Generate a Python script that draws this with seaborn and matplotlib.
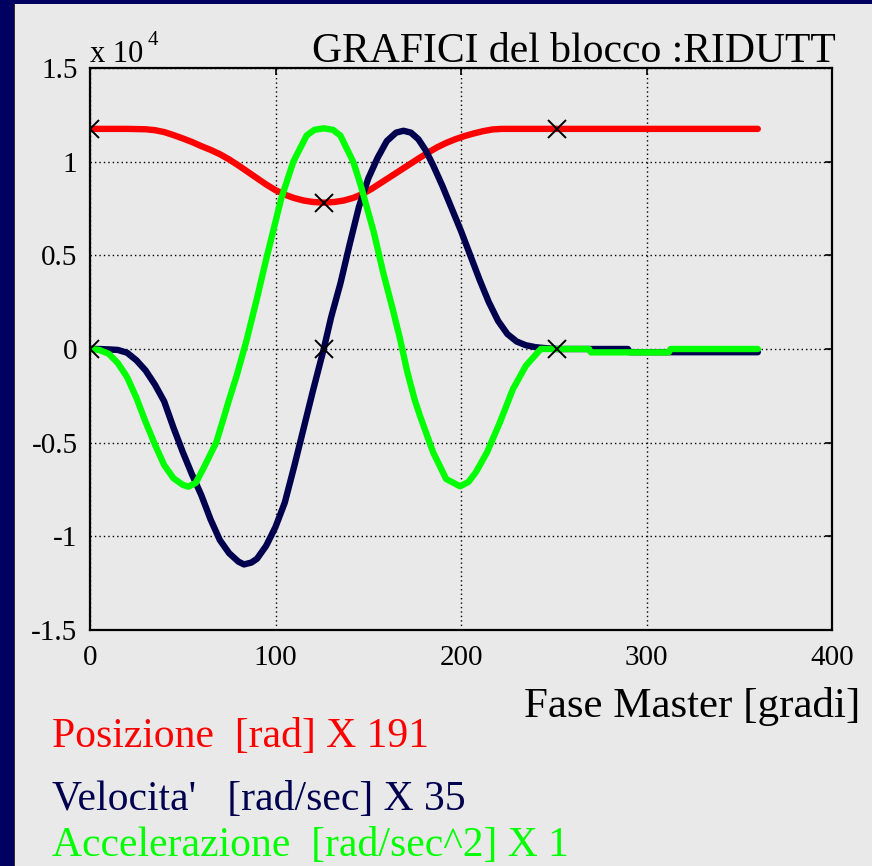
import matplotlib
matplotlib.use("Agg")
import matplotlib.pyplot as plt
import seaborn as sns
from matplotlib.patches import Rectangle

# Cam law of block RIDUTT, values in units of 10^4
pos_deg = [0, 10, 20, 30, 35, 40, 45, 50, 55, 60, 65, 70, 75, 80, 85, 90, 95, 100,
           105, 110, 115, 120, 126, 132, 137, 142, 147, 152, 157, 162, 167, 172, 177,
           182, 187, 192, 197, 202, 207, 212, 217, 222, 252, 300, 360]
pos_val = [1.175, 1.175, 1.175, 1.173, 1.168, 1.158, 1.142, 1.124, 1.105, 1.083, 1.063,
           1.040, 1.012, 0.980, 0.946, 0.912, 0.878, 0.848, 0.824, 0.806, 0.793, 0.785,
           0.781, 0.785, 0.793, 0.807, 0.828, 0.856, 0.888, 0.920, 0.952, 0.984, 1.016,
           1.047, 1.076, 1.100, 1.120, 1.137, 1.151, 1.163, 1.172, 1.175, 1.175, 1.175,
           1.175]

vel_deg = [0, 5, 10, 15, 20, 25, 30, 35, 40, 45, 50, 55, 60, 65, 70, 75, 80, 83, 87,
           90, 95, 100, 105, 110, 115, 120, 126, 130, 135, 140, 145, 150, 155, 160,
           165, 169, 173, 177, 181, 185, 190, 195, 200, 205, 210, 215, 220, 225, 230,
           235, 240, 245, 252, 290, 291, 360]
vel_val = [0.0, 0.0, -0.002, -0.005, -0.02, -0.06, -0.115, -0.19, -0.28, -0.42, -0.55,
           -0.67, -0.78, -0.91, -1.02, -1.09, -1.135, -1.15, -1.14, -1.12, -1.05, -0.95,
           -0.82, -0.63, -0.43, -0.23, 0.0, 0.17, 0.35, 0.56, 0.76, 0.91, 1.02, 1.11,
           1.155, 1.165, 1.155, 1.12, 1.06, 0.98, 0.87, 0.75, 0.63, 0.50, 0.37, 0.25,
           0.15, 0.08, 0.04, 0.02, 0.01, 0.005, 0.0, 0.0, -0.017, -0.017]

acc_deg = [0, 5, 10, 15, 20, 25, 30, 35, 40, 45, 50, 53, 57, 61, 65, 68, 72, 75, 79,
           84.5, 90, 95, 100, 103, 109.6, 116.8, 121, 126, 131, 135, 142, 146, 153, 158,
           163, 167, 171, 175, 178, 185, 192, 199.5, 204, 208, 214, 221, 228, 235, 243,
           252, 269, 270, 312, 313, 360]
acc_val = [0.0, -0.005, -0.025, -0.075, -0.15, -0.26, -0.39, -0.51, -0.62, -0.69, -0.725,
           -0.735, -0.715, -0.64, -0.56, -0.50, -0.37, -0.27, -0.145, 0.05, 0.27, 0.48,
           0.68, 0.80, 1.0, 1.14, 1.17, 1.178, 1.17, 1.139, 0.997, 0.872, 0.623, 0.41,
           0.22, 0.06, -0.12, -0.27, -0.36, -0.552, -0.694, -0.733, -0.71, -0.658, -0.552,
           -0.391, -0.214, -0.089, 0.0, 0.0, 0.0, -0.018, -0.018, 0.0, 0.0]

# key points of the law (start, middle, end of motion)
key_deg = [0, 126, 252, 0, 126, 252]
key_val = [1.175, 0.781, 1.175, 0.0, 0.0, 0.0]

x_ticks = [0, 100, 200, 300, 400]
y_ticks = [-1.5, -1, -0.5, 0, 0.5, 1, 1.5]
y_tick_labels = ["-1.5", "-1", "-0.5", "0", "0.5", "1", "1.5"]

title = "GRAFICI del blocco :RIDUTT"
x_label = "Fase Master [gradi]"
legend_lines = ["Posizione  [rad] X 191",
                "Velocita'   [rad/sec] X 35",
                "Accelerazione  [rad/sec^2] X 1"]

RED = "#ff0000"
NAVY = "#00004f"
GREEN = "#00ff00"
PANEL = "#e9e9e9"
BORDER = "#000060"

sns.set_theme(style="white")
plt.rcParams["font.family"] = ["Liberation Serif", "DejaVu Serif"]
plt.rcParams["text.color"] = "black"
plt.rcParams["axes.labelcolor"] = "black"
plt.rcParams["xtick.color"] = "black"
plt.rcParams["ytick.color"] = "black"

W, H = 872, 866
fig = plt.figure(figsize=(W / 100, H / 100), dpi=100, facecolor=PANEL)

# dark frame on the left and top edges
fig.patches.append(Rectangle((0, 0), 14 / W, 1, transform=fig.transFigure,
                             facecolor=BORDER, edgecolor="none", zorder=0))
fig.patches.append(Rectangle((0, 1 - 4 / H), 1, 4 / H, transform=fig.transFigure,
                             facecolor=BORDER, edgecolor="none", zorder=0))
fig.patches.append(Rectangle((14 / W, 0), 1.2 / W, 1 - 4 / H, transform=fig.transFigure,
                             facecolor="#3b2b2b", edgecolor="none", zorder=0))

ax = fig.add_axes([90 / W, 1 - 630 / H, (832 - 90) / W, (630 - 68) / H])
ax.set_facecolor(PANEL)

lw = 4.6
sns.lineplot(x=pos_deg, y=pos_val, color=RED, linewidth=lw, ax=ax, sort=False)
sns.lineplot(x=vel_deg, y=vel_val, color=NAVY, linewidth=lw, ax=ax, sort=False)
sns.lineplot(x=acc_deg, y=acc_val, color=GREEN, linewidth=lw, ax=ax, sort=False)
ax.plot(key_deg, key_val, linestyle="none", marker="x", color="black",
        markersize=13, markeredgewidth=1.4, zorder=5)

ax.set_xlim(0, 400)
ax.set_ylim(-1.5, 1.5)
ax.set_xticks(x_ticks)
ax.set_xticklabels([str(t) for t in x_ticks])
ax.set_yticks(y_ticks)
ax.set_yticklabels(y_tick_labels)
ax.grid(True, color="black", linestyle=(0, (1, 2.2)), linewidth=1.0)
ax.set_axisbelow(True)
for s in ax.spines.values():
    s.set_visible(True)
    s.set_color("black")
    s.set_linewidth(1.6)
ax.tick_params(direction="in", length=5, width=1.2, top=True, right=True,
               labelsize=21, colors="black", pad=9)
ax.tick_params(axis="x", pad=11)
ax.set_xlabel("")
ax.set_ylabel("")

# axis scale factor
fig.text(90 / W, 1 - 62 / H, "x 10", fontsize=22, ha="left", va="baseline")
fig.text(148 / W, 1 - 45 / H, "4", fontsize=15, ha="left", va="baseline")

fig.text(836 / W, 1 - 62 / H, title, fontsize=30, ha="right", va="baseline")
fig.text(860 / W, 1 - 717 / H, x_label, fontsize=31, ha="right", va="baseline")

for txt, col, yb in zip(legend_lines, [RED, NAVY, GREEN], [747, 810, 856]):
    fig.text(52 / W, 1 - yb / H, txt, fontsize=30, color=col, ha="left", va="baseline")

fig.savefig("out.png", dpi=100, facecolor=PANEL)
